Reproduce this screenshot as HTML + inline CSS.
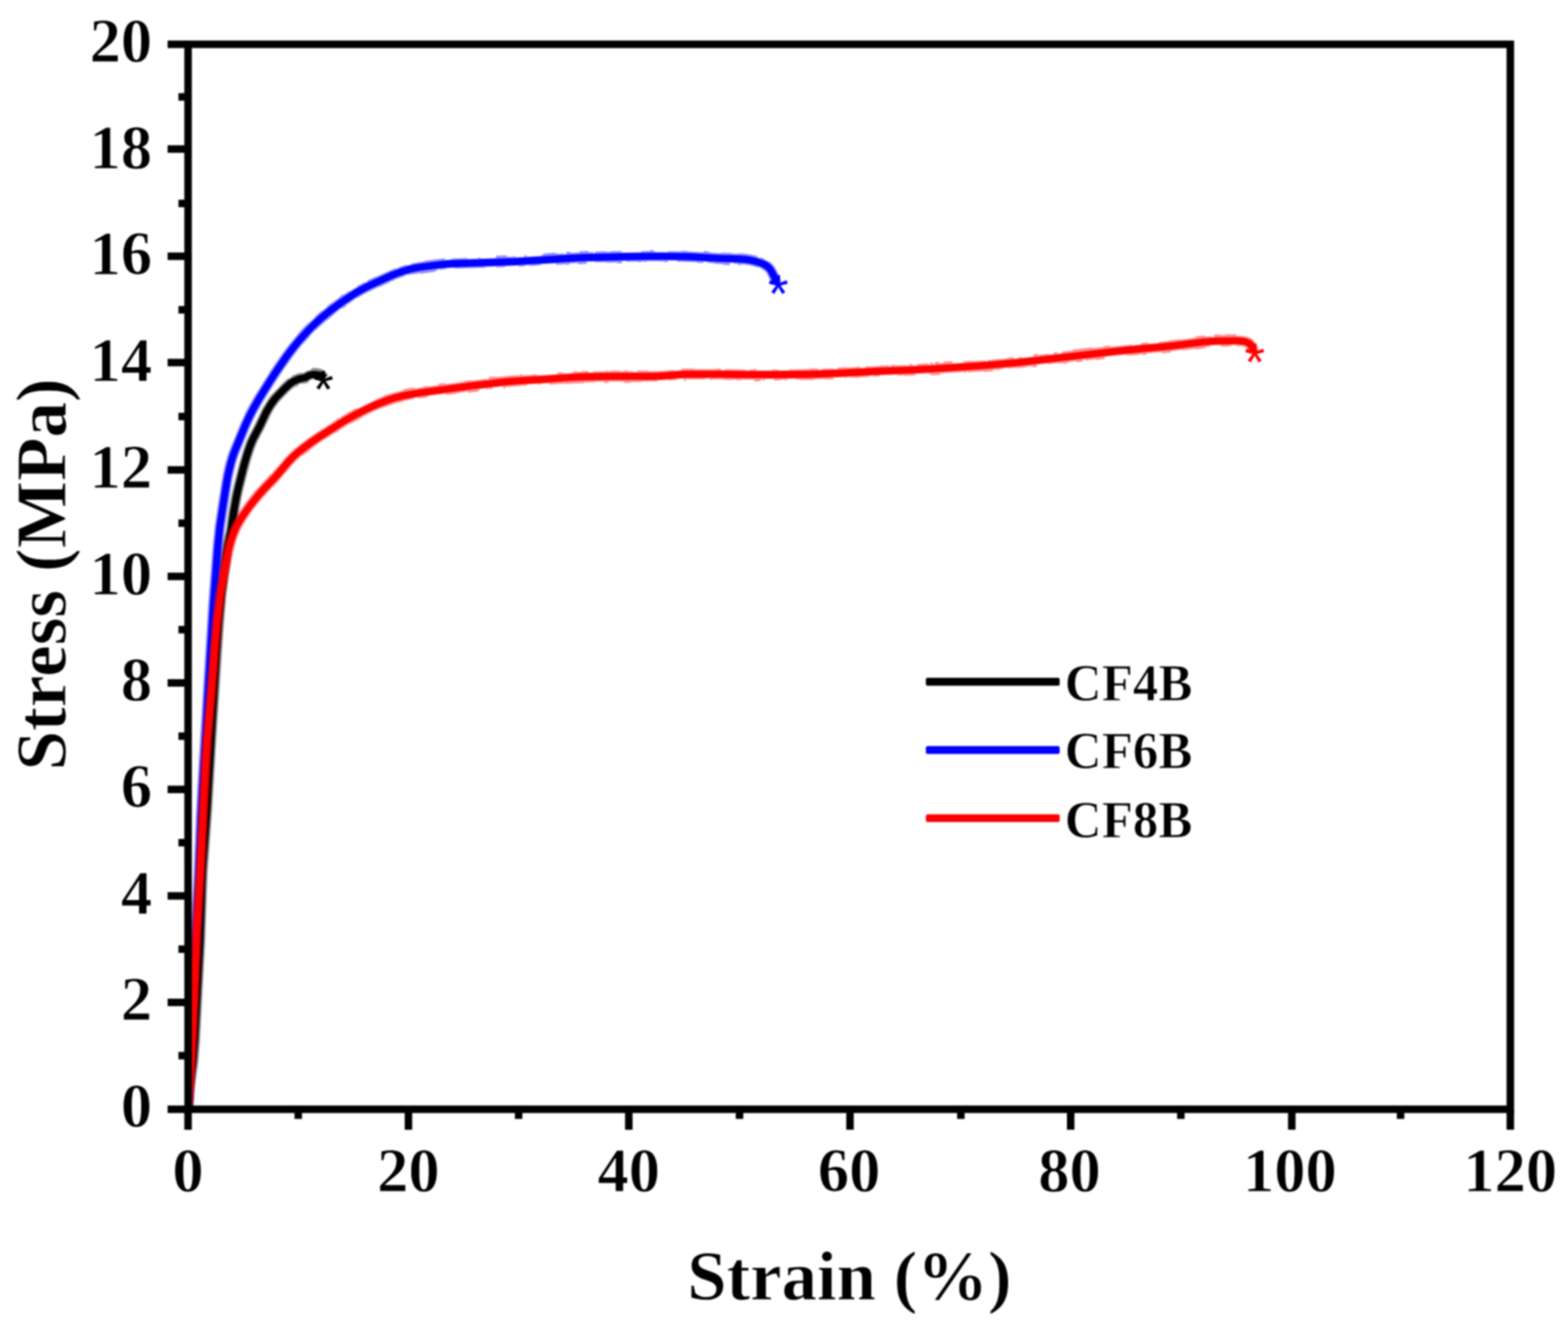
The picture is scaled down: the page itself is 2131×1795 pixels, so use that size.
<!DOCTYPE html>
<html lang="en"><head><meta charset="utf-8"><title>Stress-strain curves</title>
<style>
html,body{margin:0;padding:0;background:#fff;}
body{width:2131px;height:1795px;overflow:hidden;}
svg{display:block;}
text{font-family:"Liberation Serif","DejaVu Serif",serif;font-weight:bold;fill:#000;stroke:#fff;stroke-width:1.0px;stroke-linejoin:round;}
.tick{font-size:85.0px;}
.title{font-size:96.2px;}
.leg{font-size:72.7px;}
.star{font-family:"Liberation Sans","DejaVu Sans",sans-serif;font-weight:normal;font-size:72.0px;stroke:none;}
.curve{fill:none;stroke-linejoin:round;stroke-linecap:butt;}
</style></head><body>
<svg width="2131" height="1795" viewBox="0 0 2131 1795" style="filter:blur(0.8px)">
<rect x="-10" y="-10" width="2151" height="1815" fill="#fff"/>
<defs><clipPath id="plot"><rect x="255.6" y="60.2" width="1797.0" height="1447.1"/></clipPath></defs>
<g class="curves" clip-path="url(#plot)">
<path d="M262.7,1507.7 264.8,1479.1 269.6,1442.4 271.7,1415.2 278.9,1280.1 281.5,1203.1 282.6,1179.2 288.4,1100.4 294.3,1000.5 302.5,872.7 305.3,835.9 307.7,809.2 315.9,745.1 320.9,722.7 324.8,695.8 328.8,673.5 331.7,661.1 340.3,627.4 344.7,613.4 348.7,602.7 351.5,596.9 359.2,582.6 368.4,562.8 373.1,554.6 379.6,545.8 392.3,532.5 400.6,525.3 401.0,526.0 405.1,524.2 404.6,523.1 408.5,521.6 411.6,520.9 411.7,521.7 415.0,521.1 418.0,520.1 419.9,519.3 419.2,518.1 421.6,516.7 422.3,515.8 426.0,514.8 427.3,514.7 427.2,515.9 432.9,516.6 434.5,517.5 435.6,518.8 446.3,509.3 443.1,506.2 439.1,504.0 439.7,502.7 436.7,501.4 433.5,500.6 428.8,500.1 426.1,500.1 423.0,500.5 423.3,502.2 416.8,503.9 412.8,506.4 409.2,507.1 409.1,506.3 403.1,507.9 395.5,511.3 396.1,512.4 392.8,514.2 392.3,513.4 388.6,516.4 382.3,522.2 380.1,524.4 380.4,524.8 376.2,529.2 375.3,529.7 369.6,535.7 369.4,535.5 368.0,537.2 365.3,540.7 356.3,555.2 346.0,577.1 338.0,592.2 334.4,600.0 330.3,611.8 325.6,627.4 317.4,659.6 314.3,673.6 310.4,695.6 307.1,719.2 302.5,739.5 301.0,748.8 293.9,804.7 290.4,843.7 287.4,884.8 281.5,976.7 274.2,1100.5 268.5,1177.4 267.4,1201.5 264.7,1279.5 257.4,1415.3 255.4,1441.9 250.7,1477.7 248.5,1506.9Z" fill="#000" fill-opacity="0.45"/>
<path d="M260.4,1507.6 262.5,1478.8 267.2,1443.2 269.3,1416.0 276.5,1281.0 279.3,1202.0 280.4,1178.1 286.0,1101.3 293.2,980.4 299.2,886.5 302.0,847.7 305.8,806.0 312.6,751.5 314.2,741.9 318.8,721.3 322.1,698.4 324.3,684.7 327.8,667.3 335.5,636.3 339.5,622.0 343.8,608.9 347.8,599.2 357.1,581.6 365.5,563.5 369.2,556.7 372.9,551.0 378.5,543.6 389.4,532.2 397.2,525.1 401.3,522.2 407.9,519.5 417.0,517.5 421.5,514.8 425.2,513.8 428.2,513.7 433.0,514.3 435.5,515.4 437.4,517.2 444.6,510.8 441.7,508.0 439.4,506.6 437.0,505.5 433.0,504.6 426.3,504.1 422.4,504.6 419.0,505.5 416.2,506.7 413.6,508.5 406.2,510.0 401.9,511.4 394.8,514.9 389.4,519.1 381.1,526.9 372.8,535.7 368.6,540.5 363.2,548.3 357.9,557.3 348.5,577.3 339.5,594.2 336.2,601.8 332.1,613.4 327.5,629.0 319.4,661.2 316.4,675.1 312.7,695.9 309.4,719.6 304.8,740.0 303.3,749.2 296.2,804.9 292.7,843.9 289.7,884.9 283.8,976.8 276.4,1100.7 270.8,1177.5 269.7,1201.6 267.0,1279.6 259.7,1415.4 257.7,1442.1 253.0,1477.9 250.8,1507.0Z" fill="#000"/>
<path d="M262.7,1507.5 263.7,1477.6 265.8,1432.6 269.1,1350.7 276.8,1196.8 280.3,1109.8 282.1,1072.9 289.1,952.1 297.1,822.4 302.8,745.7 305.4,720.1 309.2,693.5 316.1,650.3 320.0,633.2 322.3,624.9 324.4,618.6 339.0,582.7 344.2,571.1 348.5,562.4 357.6,546.3 366.5,531.8 379.8,510.9 385.9,501.8 398.6,484.1 411.1,467.9 413.0,465.7 413.3,465.9 420.5,457.9 422.9,454.7 428.3,449.2 429.0,448.5 429.3,448.8 439.4,439.5 453.6,427.7 453.4,427.4 460.4,422.1 460.1,421.7 464.9,418.2 465.6,419.3 470.5,416.0 470.0,415.3 479.9,408.7 479.5,408.2 480.4,407.7 484.5,405.0 484.8,405.6 494.8,399.7 505.2,394.4 515.9,389.4 516.2,389.9 520.7,387.8 529.8,383.5 529.6,383.0 532.3,381.8 532.5,382.3 535.1,381.2 534.9,380.6 535.8,380.3 541.9,377.9 551.1,374.8 550.8,373.9 553.6,373.0 553.9,374.0 559.5,372.4 559.6,373.1 570.7,370.9 570.9,371.9 591.4,369.2 591.2,368.3 594.2,367.9 594.0,366.0 597.0,365.6 597.1,366.8 605.9,365.8 605.8,364.7 617.5,363.9 617.5,365.1 659.4,363.9 659.4,362.7 674.4,362.3 674.4,363.4 686.5,363.1 686.4,361.9 704.5,361.1 704.6,362.3 713.6,361.8 713.5,360.6 719.6,360.2 719.6,361.4 722.6,361.2 734.6,360.5 734.5,359.3 755.5,357.9 755.7,359.9 770.6,358.9 770.7,359.9 773.7,359.7 773.6,357.9 785.4,357.2 785.5,359.0 797.3,358.6 797.2,355.6 807.2,355.4 809.2,355.4 809.2,356.6 824.2,356.3 824.2,357.1 839.3,356.8 839.3,357.8 845.3,357.7 845.2,354.7 851.2,354.5 851.3,355.7 866.3,355.4 866.3,356.2 872.2,356.1 872.2,355.3 875.2,355.2 875.2,356.0 878.2,356.0 878.2,355.2 885.1,355.1 902.0,355.2 902.0,356.0 908.0,356.1 908.0,354.1 920.0,354.3 920.0,355.4 946.7,356.2 946.7,357.0 955.6,357.6 955.7,355.6 961.7,356.0 961.6,357.2 970.7,357.7 970.6,358.5 982.9,359.0 982.8,360.0 991.9,360.2 992.0,357.2 997.9,357.4 997.9,358.6 1003.7,358.8 1003.6,360.6 1006.5,360.7 1006.6,359.0 1012.3,359.4 1021.3,361.0 1031.1,363.8 1031.4,362.9 1033.9,363.9 1033.5,364.8 1037.6,367.0 1041.1,370.1 1044.0,375.2 1045.8,379.2 1048.3,386.8 1062.1,383.2 1060.1,376.9 1057.4,370.6 1053.7,363.9 1050.6,359.6 1048.7,357.7 1045.6,355.3 1045.2,355.8 1042.0,354.0 1038.7,352.6 1039.1,351.8 1032.8,349.5 1032.5,350.5 1029.4,349.6 1029.9,347.9 1020.3,345.7 1011.8,344.5 1004.5,344.0 1004.5,344.8 995.2,344.5 995.3,343.7 980.4,343.3 980.3,344.1 965.5,343.3 965.6,342.6 962.6,342.4 962.7,341.4 956.7,341.0 956.6,342.8 935.3,341.7 935.3,340.9 926.3,340.7 926.3,341.5 908.2,341.2 908.2,342.4 890.1,342.3 890.1,341.1 887.1,341.1 887.1,339.3 884.1,339.3 884.1,341.1 872.0,341.2 872.0,342.4 845.0,343.0 844.9,341.0 830.0,341.3 830.0,342.1 824.0,342.2 824.0,341.4 808.9,341.7 809.0,343.7 806.0,343.8 805.9,342.6 799.9,342.7 799.9,340.9 789.8,341.2 787.8,341.3 787.8,343.1 775.7,343.7 775.6,341.9 769.5,342.3 769.7,345.3 766.7,345.5 766.6,344.3 757.6,344.9 757.6,344.1 754.6,344.3 754.5,343.3 739.6,344.3 739.7,345.3 736.7,345.5 736.8,347.5 715.8,348.8 715.7,346.8 712.7,347.0 712.9,349.0 700.9,349.6 700.9,348.4 689.0,348.9 688.9,347.1 674.0,347.6 674.1,350.6 653.0,351.2 653.0,350.0 650.0,350.1 650.0,351.3 635.1,351.7 635.0,350.5 621.0,350.9 613.9,351.2 614.0,352.4 604.7,353.0 604.5,351.1 577.4,354.2 577.5,355.0 567.3,356.5 559.1,358.1 559.3,359.1 553.2,360.6 553.0,359.6 541.1,363.3 541.4,364.2 538.5,365.2 538.2,364.3 532.3,366.5 510.1,376.5 509.9,376.0 498.8,381.2 499.4,382.4 496.6,383.7 496.3,383.0 491.7,385.3 485.3,388.8 485.7,389.4 475.1,395.7 474.8,395.2 467.1,400.2 466.6,399.5 461.6,403.0 462.0,403.6 449.6,412.5 449.4,412.3 444.5,416.0 445.0,416.6 437.8,422.4 437.3,421.9 428.1,430.0 428.5,430.4 419.5,438.8 419.1,438.5 414.8,442.8 413.9,443.4 406.3,451.7 403.8,455.0 393.9,466.7 384.6,478.9 374.1,493.8 366.3,505.5 364.3,509.1 347.1,536.3 338.4,551.3 333.6,560.4 327.6,573.4 312.9,608.9 310.4,615.6 308.1,622.7 305.2,633.6 302.8,644.7 300.5,657.8 291.8,714.3 288.8,743.5 283.1,818.4 275.4,943.3 268.0,1070.2 266.1,1109.2 262.7,1196.2 254.9,1350.0 251.6,1432.0 249.5,1477.0 248.5,1507.1Z" fill="#00f" fill-opacity="0.45"/>
<path d="M260.4,1507.4 261.4,1477.5 263.5,1432.5 266.8,1350.6 274.5,1196.7 278.0,1109.7 279.8,1071.8 287.0,948.0 294.9,820.2 300.6,744.5 303.5,716.8 307.2,691.2 314.0,648.9 316.1,639.3 318.5,629.8 320.7,622.4 323.3,615.1 338.1,579.1 343.4,567.5 348.3,557.9 355.7,545.1 370.4,521.3 380.2,506.3 391.4,489.9 399.6,478.8 408.9,467.3 418.0,456.9 427.6,447.1 437.7,437.6 448.2,428.7 458.3,420.9 470.4,412.3 484.5,403.1 496.3,396.3 506.9,391.1 532.2,379.4 541.2,375.8 553.3,371.8 562.7,369.4 571.2,367.8 597.8,364.5 611.5,363.2 700.4,360.3 788.3,354.9 881.1,352.9 908.1,353.0 939.9,353.7 975.9,355.8 999.9,356.4 1008.7,356.9 1018.2,358.0 1027.4,360.2 1032.7,362.0 1036.7,363.8 1039.6,365.5 1041.8,367.6 1043.7,370.1 1047.2,376.7 1048.9,380.9 1050.6,386.2 1059.8,383.8 1058.3,378.7 1056.8,374.6 1052.4,366.0 1048.9,361.2 1046.2,358.6 1044.3,357.1 1041.2,355.3 1037.2,353.4 1027.0,350.2 1016.7,348.1 1004.3,347.0 976.3,346.2 939.3,344.0 902.2,343.4 874.0,343.4 799.0,345.0 777.8,345.8 699.0,350.7 610.9,353.6 598.7,354.7 572.7,357.9 562.6,359.6 553.6,361.8 541.8,365.4 532.1,369.0 504.6,381.5 493.6,386.9 482.9,392.8 470.9,400.4 457.5,409.6 446.1,418.1 435.1,427.1 424.5,436.7 414.5,446.7 404.9,457.3 394.5,469.7 385.9,481.1 373.9,498.5 363.9,513.7 348.0,539.3 340.4,552.4 335.2,562.4 329.7,574.3 315.1,609.7 311.9,618.4 309.8,625.3 307.2,635.2 305.0,645.1 302.7,658.1 294.1,714.6 291.1,743.7 285.3,819.6 277.6,945.4 270.3,1070.3 268.4,1109.3 265.0,1196.3 257.2,1350.2 253.9,1432.1 251.8,1477.1 250.8,1507.2Z" fill="#00f"/>
<path d="M262.7,1507.7 267.6,1427.8 270.9,1354.8 274.4,1266.9 279.4,1184.0 286.4,1043.1 288.4,1009.3 294.5,939.6 299.8,869.8 302.9,837.1 305.1,818.4 307.1,803.7 315.0,760.7 317.4,749.2 319.8,739.8 322.7,730.6 325.7,722.7 331.3,712.1 333.3,708.7 340.3,698.1 346.0,690.3 352.7,681.9 359.8,673.9 367.1,666.1 366.8,665.8 371.0,661.5 371.5,662.0 373.6,659.8 373.1,659.3 375.5,657.3 379.0,653.6 379.5,652.6 389.5,640.9 389.8,641.1 396.6,632.8 401.7,627.3 407.2,622.2 406.9,621.9 411.3,618.2 412.0,619.0 421.3,611.9 421.0,611.6 430.6,604.7 430.4,604.4 437.7,599.5 437.4,599.0 439.9,597.4 440.2,597.9 455.4,588.1 455.8,588.9 460.8,585.7 460.4,584.9 473.7,576.7 475.5,575.8 475.7,576.2 496.5,565.1 496.3,564.7 501.7,562.0 511.4,557.4 520.3,553.7 520.5,554.3 535.2,549.0 548.0,545.7 547.8,545.0 562.3,542.2 562.1,541.1 567.9,540.1 568.1,541.3 571.0,540.8 571.1,541.6 579.9,540.3 579.8,539.6 582.8,539.2 582.6,538.0 606.4,534.8 606.7,536.7 621.6,534.7 621.5,533.9 636.3,531.9 636.5,533.7 651.3,531.8 651.0,528.9 659.9,527.8 660.1,529.0 666.0,528.2 666.1,529.0 669.1,528.7 668.9,526.7 683.7,525.1 684.0,528.0 686.9,527.7 686.7,525.9 716.4,523.8 716.3,522.6 731.3,521.7 731.4,522.9 734.4,522.8 734.3,521.6 746.4,520.8 746.5,522.8 767.5,521.2 767.6,522.1 782.3,521.1 794.0,520.8 794.0,519.8 809.0,519.5 809.0,518.7 820.9,518.5 821.0,520.3 826.9,520.3 826.9,518.5 847.9,518.4 847.9,520.2 856.9,520.2 856.9,519.2 871.9,519.2 871.9,518.4 893.2,518.3 893.1,517.1 908.4,516.1 908.5,517.2 920.4,516.2 920.3,515.1 929.1,514.5 929.2,517.5 932.0,517.4 932.0,515.6 958.8,515.5 958.8,514.3 964.8,514.3 964.8,516.3 967.8,516.3 967.8,515.5 982.8,515.5 982.8,516.3 994.6,516.6 994.6,515.8 1000.8,515.9 1000.8,516.7 1006.8,516.8 1006.8,516.0 1024.8,516.1 1024.8,517.9 1033.8,517.9 1033.8,516.1 1036.8,516.1 1036.8,516.9 1039.8,516.9 1039.8,514.9 1051.9,514.9 1051.9,516.9 1060.9,516.9 1060.9,516.1 1066.9,516.0 1066.9,516.8 1069.9,516.8 1069.9,514.8 1081.9,514.7 1082.0,515.9 1088.0,515.8 1088.0,516.6 1106.1,516.3 1106.1,515.5 1121.2,515.0 1121.2,515.8 1133.2,515.3 1133.1,513.3 1148.1,512.6 1148.2,513.8 1151.2,513.7 1151.1,512.5 1157.2,512.2 1157.2,513.4 1163.2,513.0 1163.3,513.8 1166.3,513.6 1166.2,512.9 1181.2,512.0 1181.1,510.8 1187.1,510.5 1187.2,511.7 1196.1,511.3 1196.1,510.1 1220.0,509.2 1220.1,510.4 1229.1,510.0 1229.1,510.8 1244.2,510.2 1244.1,508.2 1262.1,507.2 1262.2,508.4 1265.2,508.3 1265.3,510.1 1271.3,509.7 1277.3,509.4 1277.2,507.6 1310.1,505.6 1310.2,506.4 1313.2,506.2 1313.1,505.4 1316.1,505.2 1316.2,506.0 1337.2,504.5 1337.3,505.5 1349.3,504.5 1349.2,502.8 1355.2,502.2 1355.3,503.0 1358.3,502.8 1358.2,502.0 1364.2,501.4 1364.1,500.3 1370.1,499.7 1370.2,500.9 1382.2,499.7 1382.2,500.5 1394.3,499.3 1394.2,498.5 1403.2,497.5 1403.4,499.3 1409.4,498.6 1409.0,495.7 1423.9,493.9 1424.1,495.0 1439.0,493.2 1439.1,494.0 1445.0,493.3 1445.1,494.2 1451.1,493.6 1450.9,492.6 1453.9,492.2 1453.8,491.5 1462.8,490.4 1463.0,492.2 1471.9,491.2 1471.6,488.3 1474.6,487.9 1474.8,489.9 1489.7,488.2 1489.8,489.2 1501.7,487.8 1501.4,484.9 1531.2,481.7 1531.3,482.9 1534.3,482.6 1534.4,483.3 1549.2,481.9 1549.2,481.1 1552.1,480.8 1552.3,482.6 1558.2,482.0 1558.1,480.3 1579.0,478.4 1579.2,480.2 1591.3,479.0 1591.1,477.3 1606.1,475.5 1606.2,476.2 1624.2,473.9 1624.3,474.9 1638.7,473.1 1638.6,471.4 1644.4,470.9 1644.3,469.8 1652.2,469.3 1659.1,469.1 1659.2,471.1 1671.1,470.9 1671.1,470.1 1674.0,470.0 1674.0,468.8 1679.9,468.9 1679.8,470.1 1689.5,470.7 1693.1,472.0 1694.7,473.6 1696.0,476.1 1696.9,480.2 1711.1,478.8 1709.8,472.6 1707.5,467.3 1705.9,464.9 1704.0,462.7 1701.5,460.6 1698.7,459.0 1695.1,457.6 1691.0,456.7 1680.1,456.0 1680.2,454.2 1664.8,454.3 1664.8,455.3 1658.8,455.5 1658.8,454.5 1656.7,454.5 1649.5,454.8 1649.7,457.8 1646.6,457.9 1646.6,456.7 1637.4,457.4 1637.3,455.6 1634.1,455.9 1624.9,457.1 1625.1,458.8 1604.3,461.5 1604.2,460.8 1589.5,462.5 1589.6,463.3 1574.8,464.7 1574.9,465.9 1559.9,467.2 1559.8,465.2 1550.8,466.0 1551.0,468.0 1539.0,469.2 1538.8,468.0 1508.9,471.2 1508.7,469.4 1499.8,470.4 1499.9,471.4 1485.0,473.0 1484.9,472.0 1458.0,475.1 1458.1,476.1 1443.2,477.8 1443.4,479.7 1437.4,480.4 1437.2,478.5 1431.2,479.2 1431.5,481.2 1425.5,481.9 1425.4,480.7 1410.5,482.5 1410.3,480.8 1404.4,481.5 1404.7,484.4 1389.8,486.0 1389.7,484.9 1383.8,485.5 1383.9,486.6 1377.9,487.2 1377.7,485.3 1368.8,486.1 1368.9,486.9 1342.1,489.3 1342.2,490.4 1339.2,490.7 1339.1,489.5 1321.2,490.8 1321.1,490.0 1309.2,490.8 1309.3,492.8 1294.4,493.7 1294.2,490.7 1282.2,491.4 1282.3,493.2 1280.3,493.3 1276.3,493.6 1276.2,491.8 1270.2,492.1 1270.4,495.1 1267.4,495.3 1267.3,492.3 1264.3,492.5 1264.4,495.4 1261.4,495.6 1261.3,493.6 1246.4,494.4 1246.5,496.4 1240.5,496.7 1240.4,494.7 1234.5,495.0 1234.5,497.0 1231.6,497.1 1231.5,495.9 1216.5,496.5 1216.5,495.7 1210.5,495.9 1210.6,497.9 1207.6,498.0 1207.5,496.0 1204.5,496.1 1204.5,496.9 1201.5,497.0 1201.5,496.2 1195.5,496.5 1195.5,497.3 1180.4,498.0 1180.4,497.2 1177.4,497.4 1177.5,499.3 1168.5,499.9 1168.4,497.9 1162.4,498.2 1162.4,499.0 1151.5,499.6 1150.5,499.6 1150.5,498.8 1138.5,499.4 1138.6,501.4 1132.6,501.6 1132.6,500.4 1117.6,501.1 1117.6,502.3 1111.7,502.5 1111.6,500.5 1099.7,500.8 1099.7,501.6 1072.8,501.9 1072.8,503.1 1057.8,503.3 1057.8,502.1 1048.9,502.1 1048.9,503.3 1027.9,503.2 1027.9,501.2 1024.9,501.2 1024.9,502.0 1018.9,502.0 1018.9,503.2 1012.9,503.2 1012.9,502.0 986.0,501.5 986.0,502.7 979.8,502.7 979.8,500.7 973.8,500.7 973.8,501.5 943.8,501.5 943.8,500.7 932.7,500.8 925.4,501.1 925.5,503.0 916.4,503.7 916.3,502.5 899.4,503.9 889.7,504.3 880.9,504.4 880.9,503.6 865.9,503.6 865.9,505.6 859.9,505.6 859.9,504.4 853.9,504.4 853.9,503.6 847.9,503.6 847.9,504.4 841.9,504.4 841.9,503.6 829.8,503.6 829.8,504.4 826.8,504.4 826.8,503.6 823.8,503.7 823.8,504.5 805.7,504.7 805.8,505.9 799.7,506.0 799.7,504.0 790.7,504.2 790.7,505.0 784.6,505.2 784.5,504.4 778.4,504.7 778.5,506.7 766.4,507.5 766.3,506.4 763.3,506.6 763.3,505.8 757.3,506.3 757.4,508.3 730.6,510.1 730.6,508.9 727.6,509.1 727.5,508.3 724.5,508.5 724.6,509.2 709.6,510.1 709.5,508.3 706.4,508.5 706.6,510.3 703.5,510.5 703.5,509.7 689.3,510.8 673.2,512.5 673.1,511.5 670.1,511.8 664.1,512.6 664.5,515.5 661.5,515.8 661.4,514.7 640.5,517.2 640.4,516.5 631.4,517.6 631.5,518.4 604.7,522.0 604.5,520.3 595.5,521.5 595.8,523.2 580.9,525.3 580.8,524.5 574.9,525.3 575.0,526.1 562.9,527.9 562.6,526.2 547.5,529.0 547.8,530.6 537.8,532.9 529.7,535.3 529.5,534.7 520.7,537.9 520.9,538.4 509.5,542.9 509.8,543.7 499.5,548.3 484.9,555.5 484.4,554.3 463.0,566.2 463.5,567.1 460.9,568.7 460.1,567.3 458.3,568.4 457.4,568.9 457.9,569.7 452.8,573.0 453.1,573.5 448.0,576.8 447.7,576.3 442.6,579.5 443.0,580.0 437.9,583.3 437.6,582.8 420.7,594.0 409.2,602.4 400.2,609.5 395.5,613.6 395.7,613.9 388.9,620.5 376.9,634.5 376.7,634.3 370.9,640.9 371.1,641.1 369.2,643.3 368.9,643.0 364.9,647.2 364.4,648.1 352.3,660.2 352.6,660.5 348.4,665.0 348.2,664.8 346.8,666.4 340.3,674.3 339.8,675.3 334.1,682.5 325.2,695.1 319.1,704.8 315.0,712.2 311.9,719.1 308.7,727.9 305.6,737.9 303.1,748.0 296.8,780.6 292.0,808.6 289.8,826.6 287.6,846.6 285.0,876.6 280.1,940.5 275.6,990.3 274.0,1011.3 272.1,1043.4 265.2,1182.3 260.2,1266.2 256.7,1354.2 253.4,1427.1 248.5,1506.9Z" fill="#f00" fill-opacity="0.45"/>
<path d="M260.4,1507.6 265.3,1427.7 268.6,1354.7 272.1,1266.8 277.1,1182.9 284.0,1045.0 285.8,1013.1 287.5,991.3 292.1,940.4 296.7,878.6 299.2,850.8 303.3,814.1 305.1,801.4 307.5,787.7 314.3,752.5 316.3,743.9 318.7,735.4 321.9,726.2 324.8,719.3 328.4,712.6 333.0,705.1 342.5,691.3 353.5,677.4 360.6,669.4 378.7,650.5 397.5,628.4 402.8,623.0 409.4,617.3 426.7,604.2 435.7,598.2 462.5,580.9 471.8,575.3 483.0,569.0 498.0,561.3 511.4,555.0 524.1,549.9 535.2,546.0 541.7,544.2 550.2,542.2 570.7,538.6 640.0,529.2 686.5,523.7 704.3,522.3 743.3,520.0 775.2,517.6 789.0,516.9 827.9,516.2 890.0,516.2 900.2,515.7 923.1,513.8 932.9,513.4 982.8,513.3 999.8,513.7 1047.9,513.9 1102.0,513.4 1146.1,511.7 1189.0,509.4 1238.0,507.4 1271.0,505.7 1333.0,501.8 1382.9,497.4 1518.2,482.0 1546.0,479.2 1591.8,474.9 1636.5,469.3 1652.2,468.3 1677.9,467.8 1686.7,468.1 1690.7,468.7 1694.2,470.0 1696.5,472.2 1698.2,475.3 1699.2,480.0 1708.8,479.0 1708.2,475.4 1707.2,472.0 1704.9,467.4 1702.4,464.3 1700.2,462.5 1695.6,460.2 1690.7,458.9 1682.2,458.3 1654.8,458.6 1634.5,459.9 1591.8,465.3 1545.0,469.6 1519.1,472.3 1382.0,487.9 1332.3,492.2 1269.5,496.2 1236.6,497.9 1188.6,499.8 1145.6,502.1 1101.8,503.8 1047.9,504.3 999.9,504.1 982.9,503.7 932.8,503.8 922.5,504.2 899.5,506.1 889.8,506.6 827.8,506.6 788.7,507.3 775.6,507.9 745.6,510.2 706.7,512.5 689.6,513.8 671.6,515.7 639.8,519.6 570.3,529.0 549.3,532.6 540.3,534.6 533.3,536.5 521.7,540.5 508.4,545.8 496.5,551.4 480.2,559.6 468.7,566.0 458.3,572.2 431.2,589.6 422.0,595.8 411.3,603.6 403.3,609.9 396.3,616.0 391.1,621.1 385.7,627.2 371.5,644.1 353.6,662.8 347.4,669.7 336.0,683.9 327.2,696.4 321.1,706.0 317.1,713.3 314.0,720.0 310.8,728.7 307.8,738.5 305.4,748.5 298.8,782.0 294.3,808.9 292.0,826.9 289.9,846.8 287.3,876.8 282.4,940.6 278.0,989.5 276.3,1011.5 274.4,1043.5 267.5,1182.4 262.5,1266.3 259.0,1354.3 255.7,1427.2 250.8,1507.0Z" fill="#f00"/>
</g>
<g class="stars">
<text class="star" x="439.5" y="553.6" text-anchor="middle" style="fill:#000">*</text>
<text class="star" x="1057.8" y="423.9" text-anchor="middle" style="fill:#00f">*</text>
<text class="star" x="1705.3" y="517.2" text-anchor="middle" style="fill:#f00">*</text>
</g>
<rect x="255.6" y="60.2" width="1797.0" height="1447.1" stroke="#000" stroke-width="10.2" fill="none"/>
<g stroke="#000" stroke-width="10.2" stroke-linecap="butt">
<line x1="227.80" y1="1507.30" x2="255.60" y2="1507.30"/>
<line x1="242.50" y1="1434.44" x2="255.60" y2="1434.44"/>
<line x1="227.80" y1="1362.09" x2="255.60" y2="1362.09"/>
<line x1="242.50" y1="1289.73" x2="255.60" y2="1289.73"/>
<line x1="227.80" y1="1217.38" x2="255.60" y2="1217.38"/>
<line x1="242.50" y1="1145.03" x2="255.60" y2="1145.03"/>
<line x1="227.80" y1="1072.67" x2="255.60" y2="1072.67"/>
<line x1="242.50" y1="1000.32" x2="255.60" y2="1000.32"/>
<line x1="227.80" y1="927.96" x2="255.60" y2="927.96"/>
<line x1="242.50" y1="855.61" x2="255.60" y2="855.61"/>
<line x1="227.80" y1="783.25" x2="255.60" y2="783.25"/>
<line x1="242.50" y1="710.89" x2="255.60" y2="710.89"/>
<line x1="227.80" y1="638.54" x2="255.60" y2="638.54"/>
<line x1="242.50" y1="565.98" x2="255.60" y2="565.98"/>
<line x1="227.80" y1="492.63" x2="255.60" y2="492.63"/>
<line x1="242.50" y1="420.97" x2="255.60" y2="420.97"/>
<line x1="227.80" y1="348.22" x2="255.60" y2="348.22"/>
<line x1="242.50" y1="276.47" x2="255.60" y2="276.47"/>
<line x1="227.80" y1="202.51" x2="255.60" y2="202.51"/>
<line x1="242.50" y1="131.66" x2="255.60" y2="131.66"/>
<line x1="227.80" y1="60.20" x2="255.60" y2="60.20"/>
<line x1="255.60" y1="1507.30" x2="255.60" y2="1535.10"/>
<line x1="405.35" y1="1507.30" x2="405.35" y2="1520.40"/>
<line x1="555.10" y1="1507.30" x2="555.10" y2="1535.10"/>
<line x1="704.85" y1="1507.30" x2="704.85" y2="1520.40"/>
<line x1="854.60" y1="1507.30" x2="854.60" y2="1535.10"/>
<line x1="1005.05" y1="1507.30" x2="1005.05" y2="1520.40"/>
<line x1="1155.20" y1="1507.30" x2="1155.20" y2="1535.10"/>
<line x1="1305.85" y1="1507.30" x2="1305.85" y2="1520.40"/>
<line x1="1455.10" y1="1507.30" x2="1455.10" y2="1535.10"/>
<line x1="1604.85" y1="1507.30" x2="1604.85" y2="1520.40"/>
<line x1="1755.60" y1="1507.30" x2="1755.60" y2="1535.10"/>
<line x1="1903.45" y1="1507.30" x2="1903.45" y2="1520.40"/>
<line x1="2052.60" y1="1507.30" x2="2052.60" y2="1535.10"/>
</g>
<g class="tick">
<text x="206.8" y="1531.10" text-anchor="end">0</text>
<text x="206.8" y="1386.39" text-anchor="end">2</text>
<text x="206.8" y="1241.68" text-anchor="end">4</text>
<text x="206.8" y="1096.97" text-anchor="end">6</text>
<text x="206.8" y="952.26" text-anchor="end">8</text>
<text x="206.8" y="807.55" text-anchor="end">10</text>
<text x="206.8" y="662.84" text-anchor="end">12</text>
<text x="206.8" y="518.13" text-anchor="end">14</text>
<text x="206.8" y="373.42" text-anchor="end">16</text>
<text x="206.8" y="228.71" text-anchor="end">18</text>
<text x="206.8" y="84.00" text-anchor="end">20</text>
<text x="255.60" y="1618.9" text-anchor="middle">0</text>
<text x="555.10" y="1618.9" text-anchor="middle">20</text>
<text x="854.60" y="1618.9" text-anchor="middle">40</text>
<text x="1154.10" y="1618.9" text-anchor="middle">60</text>
<text x="1453.60" y="1618.9" text-anchor="middle">80</text>
<text x="1753.10" y="1618.9" text-anchor="middle">100</text>
<text x="2052.60" y="1618.9" text-anchor="middle">120</text>
</g>
<text class="title" transform="translate(1154.4,1765.9) scale(1,1.0)" text-anchor="middle">Strain (%)</text>
<text class="title" style="font-size:96.8px" transform="translate(89.2,780.5) rotate(-90) scale(1,1.0)" text-anchor="middle">Stress (MPa)</text>
<g class="legend">
<rect x="1258.3" y="921.1" width="181.9" height="10.6" rx="2.5" fill="#000"/>
<text class="leg" transform="translate(1447.0,952.3) scale(0.955,1)">CF4B</text>
<rect x="1258.3" y="1013.8" width="181.9" height="10.6" rx="2.5" fill="#00f"/>
<text class="leg" transform="translate(1447.0,1043.6) scale(0.955,1)">CF6B</text>
<rect x="1258.3" y="1106.4" width="181.9" height="10.6" rx="2.5" fill="#f00"/>
<text class="leg" transform="translate(1447.0,1137.6) scale(0.955,1)">CF8B</text>
</g>
</svg>
</body></html>
